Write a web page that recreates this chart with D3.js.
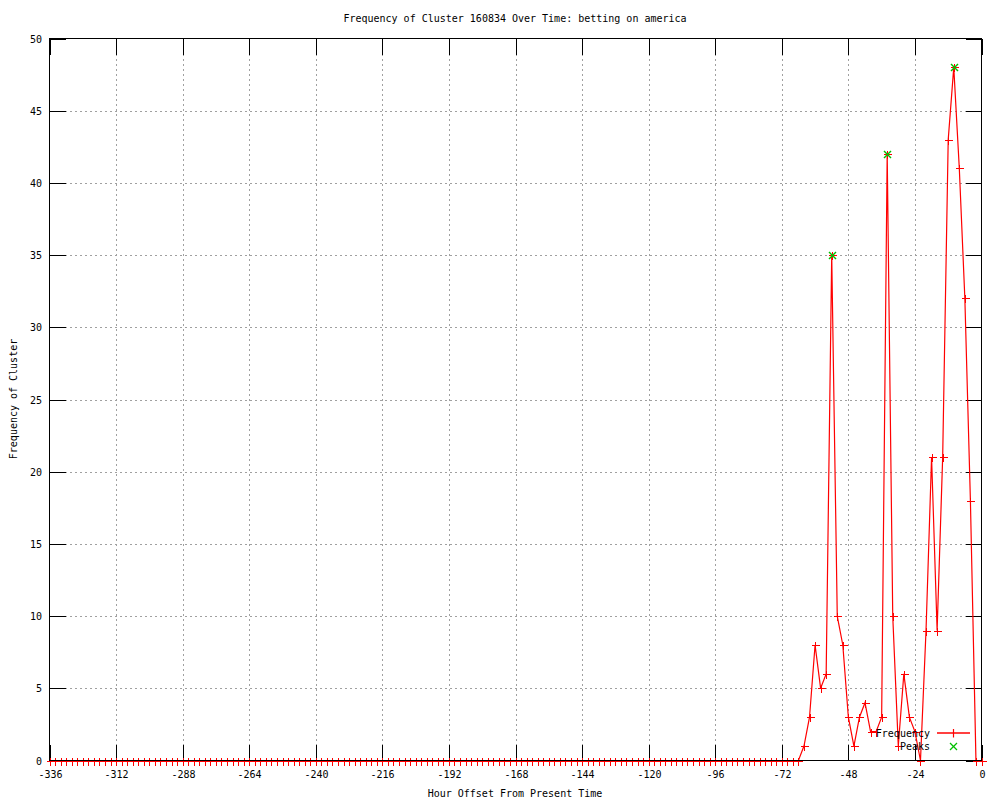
<!DOCTYPE html>
<html>
<head>
<meta charset="utf-8">
<script src="https://cdn.jsdelivr.net/npm/d3@7"></script>
<style>
  body { margin: 0; background: #fff; }
  svg { display: block; }
  text { font-family: "DejaVu Sans Mono", "Liberation Mono", monospace; font-size: 10px; fill: #000; }
</style>
</head>
<body>
<svg id="chart" width="1000" height="800"></svg>
<script>
// ---- data ----
const titleText = "Frequency of Cluster 160834 Over Time: betting on america";
const xLabel = "Hour Offset From Present Time";
const yLabel = "Frequency of Cluster";
const hours = d3.range(-336, 1, 2); // one reading every 2 hours
const frequency = [
  0,0,0,0,0,0,0,0,0,0, 0,0,0,0,0,0,0,0,0,0,
  0,0,0,0,0,0,0,0,0,0, 0,0,0,0,0,0,0,0,0,0,
  0,0,0,0,0,0,0,0,0,0, 0,0,0,0,0,0,0,0,0,0,
  0,0,0,0,0,0,0,0,0,0, 0,0,0,0,0,0,0,0,0,0,
  0,0,0,0,0,0,0,0,0,0, 0,0,0,0,0,0,0,0,0,0,
  0,0,0,0,0,0,0,0,0,0, 0,0,0,0,0,0,0,0,0,0,
  0,0,0,0,0,0,0,0,0,0, 0,0,0,0,0,0,
  1,3,8,5,6,35,10,8,3,1,
  3,4,2,2,3,42,10,1,6,3,
  2,0,9,21,9,21,43,48,41,32,
  18,0,0
];
const peakHours = [-54, -34, -10];
const peakValues = [35, 42, 48];
const xTicks = [-336,-312,-288,-264,-240,-216,-192,-168,-144,-120,-96,-72,-48,-24,0];
const yTicks = [0,5,10,15,20,25,30,35,40,45,50];
const legendNames = ["Frequency", "Peaks"];

// ---- drawing ----
const svg = d3.select("#chart");
const L = 49.5, R = 981.5, T = 38.5, B = 760.5;
const x = d3.scaleLinear().domain([-336, 0]).range([L, R]);
const y = d3.scaleLinear().domain([0, 50]).range([B, T]);
const red = "#ff0000", green = "#00c000";

// grid
const grid = svg.append("g").style("stroke", "#a0a0a0").attr("stroke-dasharray", "2,3").attr("shape-rendering", "crispEdges");
xTicks.filter(t => t !== -336 && t !== 0).forEach(t => {
  grid.append("line").attr("x1", Math.round(x(t)) + 0.5).attr("x2", Math.round(x(t)) + 0.5).attr("y1", T).attr("y2", B);
});
yTicks.filter(t => t !== 0 && t !== 50).forEach(t => {
  grid.append("line").attr("y1", Math.round(y(t)) + 0.5).attr("y2", Math.round(y(t)) + 0.5).attr("x1", L).attr("x2", R);
});

// ticks (inward, mirrored)
const ticks = svg.append("g").style("stroke", "#000").attr("shape-rendering", "crispEdges");
xTicks.forEach(t => {
  const xx = Math.round(x(t)) + 0.5;
  ticks.append("line").attr("x1", xx).attr("x2", xx).attr("y1", B).attr("y2", B - 16);
  ticks.append("line").attr("x1", xx).attr("x2", xx).attr("y1", T).attr("y2", T + 16);
  svg.append("text").attr("x", xx).attr("y", 778).attr("text-anchor", "middle").text(String(t));
});
yTicks.forEach(t => {
  const yy = Math.round(y(t)) + 0.5;
  ticks.append("line").attr("y1", yy).attr("y2", yy).attr("x1", L).attr("x2", L + 16);
  ticks.append("line").attr("y1", yy).attr("y2", yy).attr("x1", R).attr("x2", R - 16);
  svg.append("text").attr("x", 42).attr("y", yy + 3.5).attr("text-anchor", "end").text(t);
});

// data line
const pts = hours.map((h, i) => [h, frequency[i]]);
svg.append("path")
  .datum(pts)
  .style("fill", "none").style("stroke", red).style("stroke-width", 1.2)
  .attr("d", d3.line().x(d => x(d[0])).y(d => y(d[1])));

// plus markers
const plus = svg.append("g").style("stroke", red).style("stroke-width", 1).attr("shape-rendering", "crispEdges");
pts.forEach(d => {
  const px = Math.round(x(d[0])) + 0.5, py = Math.round(y(d[1])) + 0.5;
  plus.append("line").attr("x1", px - 4).attr("x2", px + 4).attr("y1", py).attr("y2", py);
  plus.append("line").attr("x1", px).attr("x2", px).attr("y1", py - 4).attr("y2", py + 4);
});

// peak x markers
const cross = svg.append("g").style("stroke", green).style("stroke-width", 1.4);
peakHours.forEach((h, i) => {
  const px = Math.round(x(h)) + 0.5, py = Math.round(y(peakValues[i])) + 0.5;
  cross.append("line").attr("x1", px - 3.5).attr("x2", px + 3.5).attr("y1", py - 3.5).attr("y2", py + 3.5);
  cross.append("line").attr("x1", px - 3.5).attr("x2", px + 3.5).attr("y1", py + 3.5).attr("y2", py - 3.5);
});

// border
svg.append("rect").attr("x", L).attr("y", T).attr("width", R - L).attr("height", B - T)
  .style("fill", "none").style("stroke", "#000").attr("shape-rendering", "crispEdges");

// legend
svg.append("text").attr("x", 930).attr("y", 737).attr("text-anchor", "end").text(legendNames[0]);
const lg = svg.append("g");
lg.append("line").attr("x1", 937).attr("x2", 970).attr("y1", 733).attr("y2", 733)
  .style("stroke", red).style("stroke-width", 1.5);
lg.append("line").attr("x1", 953.5).attr("x2", 953.5).attr("y1", 729).attr("y2", 737.5)
  .style("stroke", red).style("stroke-width", 1.2);
svg.append("text").attr("x", 930).attr("y", 750).attr("text-anchor", "end").text(legendNames[1]);
lg.append("line").attr("x1", 950).attr("x2", 957).attr("y1", 743).attr("y2", 750).style("stroke", green).style("stroke-width", 1.2);
lg.append("line").attr("x1", 950).attr("x2", 957).attr("y1", 750).attr("y2", 743).style("stroke", green).style("stroke-width", 1.2);

// titles
svg.append("text").attr("x", 515).attr("y", 22).attr("text-anchor", "middle").text(titleText);
svg.append("text").attr("x", 515).attr("y", 797).attr("text-anchor", "middle").text(xLabel);
svg.append("text").attr("transform", "translate(17,399) rotate(-90)").attr("text-anchor", "middle").text(yLabel);
</script>
</body>
</html>
